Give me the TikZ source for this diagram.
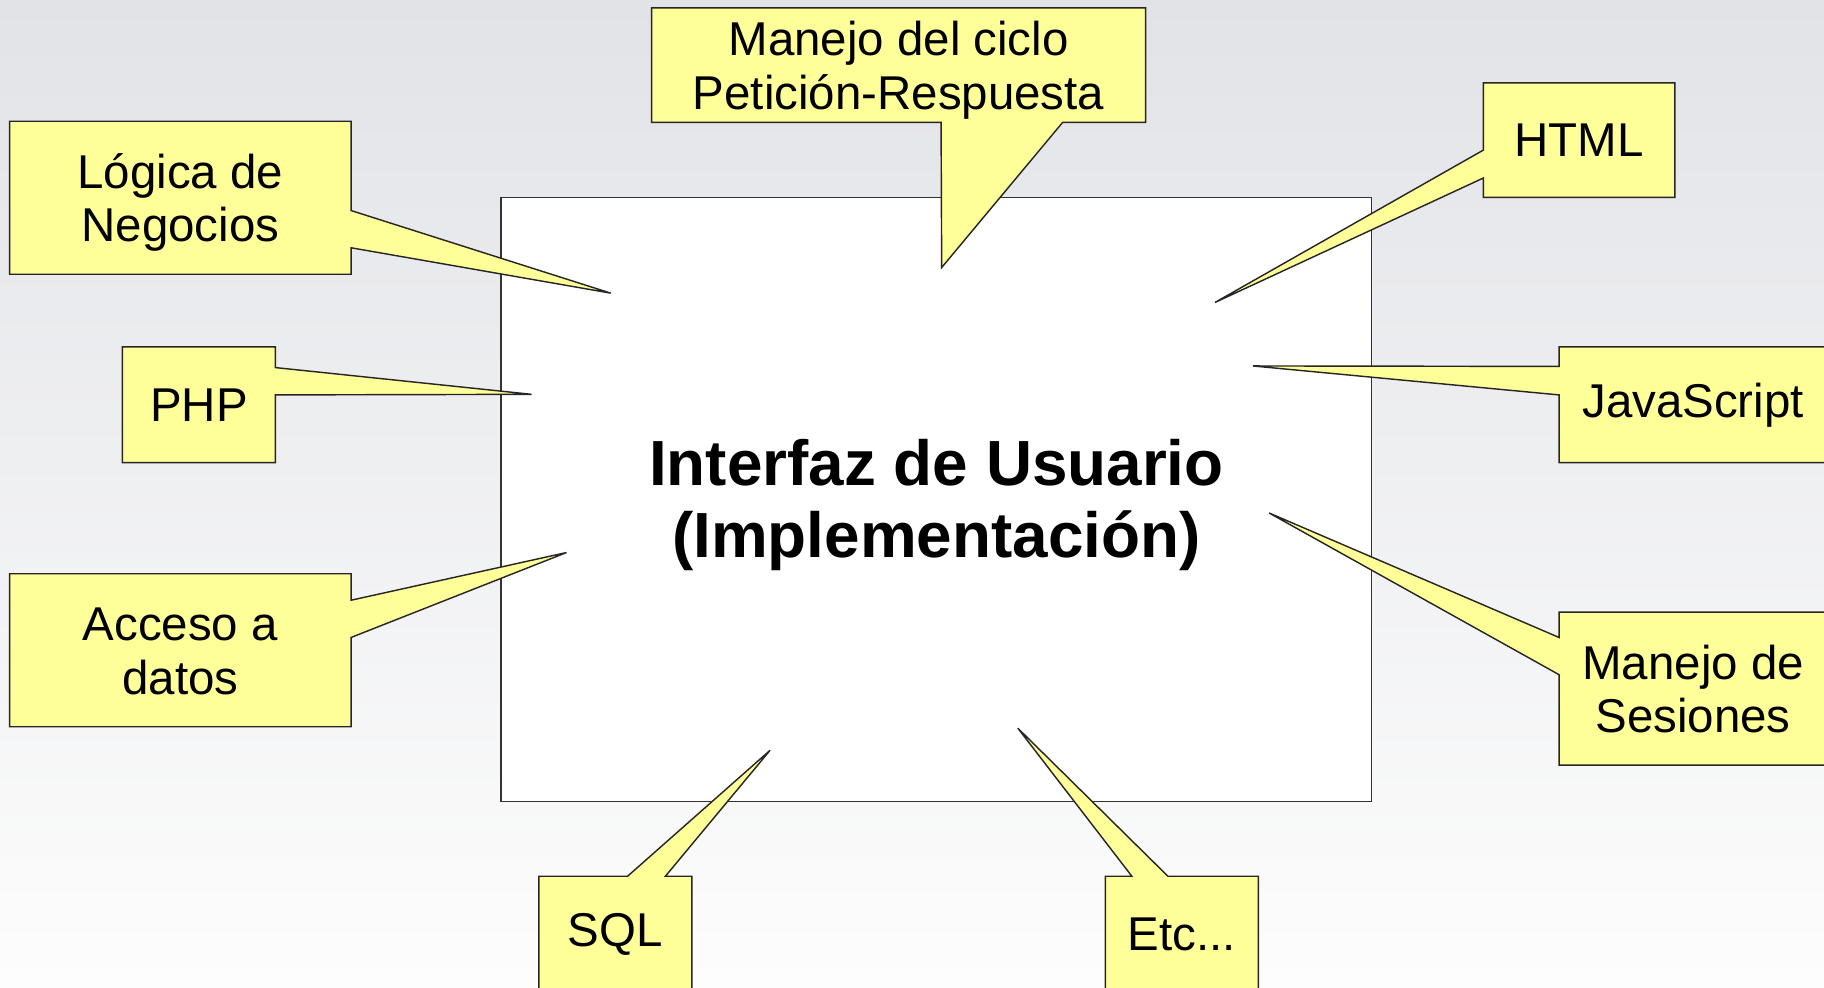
\documentclass[tikz,border=0pt]{standalone}
\usepackage{fontspec}
\setmainfont{Liberation Sans}
\usepackage{xcolor}
\usepackage{tikz}
\usetikzlibrary{positioning}

\definecolor{bgtop}{RGB}{226,227,231}
\definecolor{bgbottom}{RGB}{253,253,253}
\definecolor{noteyellow}{RGB}{255,255,153}

\pgfdeclarelayer{back}
\pgfdeclarelayer{bubbles}
\pgfsetlayers{back,bubbles,main}

\tikzset{
    notetext/.style={inner sep=0pt, align=center, font=\fontsize{11.6}{13.1}\selectfont},
    twolines/.style={text height=24pt, text depth=2.5pt},
    bubble/.style={fill=noteyellow, draw=black!85, line width=0.35pt, line join=miter},
    uibox/.style={draw=black!80, fill=white, line width=0.35pt, inner sep=0pt,
        minimum width=7.48cm, minimum height=5.19cm, align=center,
        text height=31.8pt, text depth=3.3pt,
        font=\fontsize{15.6}{17.6}\selectfont\bfseries}
}

\begin{document}
\begin{tikzpicture}[x=0.01cm, y=-0.01cm]
    \useasboundingbox (0,0) rectangle (1568,849);

    % Background and central box
    \begin{pgfonlayer}{back}
        \shade[top color=bgtop, bottom color=bgbottom] (0,0) rectangle (1568,849);
        \node[uibox] (ui) at (805,429.5) {Interfaz de Usuario\\(Implementaci\'on)};
    \end{pgfonlayer}

    % Callout texts
    \node[notetext, twolines, minimum width=2.92cm, minimum height=1.30cm] (logica) at (155,170) {L\'ogica de\\Negocios};
    \node[notetext, twolines, minimum width=4.23cm, minimum height=0.97cm] (ciclo) at (772.5,56) {Manejo del ciclo\\Petici\'on-Respuesta};
    \node[notetext, minimum width=1.63cm, minimum height=0.97cm] (html) at (1357.5,120.5) {HTML};
    \node[notetext, minimum width=1.30cm, minimum height=0.98cm] (php) at (171,348) {PHP};
    \node[notetext, minimum width=2.29cm, minimum height=0.98cm] (js) at (1455.5,348) {JavaScript};
    \node[notetext, twolines, minimum width=2.92cm, minimum height=1.30cm] (acceso) at (155,559) {Acceso a\\datos};
    \node[notetext, twolines, minimum width=2.29cm, minimum height=1.30cm] (sesiones) at (1455.5,592) {Manejo de\\Sesiones};
    \node[notetext, minimum width=1.30cm, minimum height=0.98cm] (sql) at (529,803) {SQL};
    \node[notetext, minimum width=1.30cm, minimum height=0.98cm] (etc) at (1016,803) {Etc...};

    % Tips of the callouts
    \coordinate (logicaTip) at (525,252);
    \coordinate (cicloTip) at (809.5,230);
    \coordinate (htmlTip) at (1044.5,260);
    \coordinate (phpTip) at (457,339);
    \coordinate (jsTip) at (1077,314.6);
    \coordinate (accesoTip) at (487,475);
    \coordinate (sesionesTip) at (1091,441);
    \coordinate (sqlTip) at (662,645);
    \coordinate (etcTip) at (875,626);

    % Callout outlines
    \begin{pgfonlayer}{bubbles}
        \draw[bubble] (logica.north west) -- (logica.north east) -- (logica.east |- 0,181) -- (logicaTip)
            -- (logica.east |- 0,213) -- (logica.south east) -- (logica.south west) -- cycle;
        \draw[bubble] (ciclo.north west) -- (ciclo.north east) -- (ciclo.south east) -- (913.5,0 |- ciclo.south)
            -- (cicloTip) -- (809,0 |- ciclo.south) -- (ciclo.south west) -- cycle;
        \draw[bubble] (html.north west) -- (html.north east) -- (html.south east) -- (html.south west)
            -- (html.west |- 0,153) -- (htmlTip) -- (html.west |- 0,129) -- cycle;
        \draw[bubble] (php.north west) -- (php.north east) -- (php.east |- 0,316) -- (phpTip)
            -- (php.east |- 0,339.5) -- (php.south east) -- (php.south west) -- cycle;
        \draw[bubble] (js.north west) -- (js.north east) -- (js.south east) -- (js.south west)
            -- (js.west |- 0,339.5) -- (jsTip) -- (js.west |- 0,315) -- cycle;
        \draw[bubble] (acceso.north west) -- (acceso.north east) -- (acceso.east |- 0,516) -- (accesoTip)
            -- (acceso.east |- 0,548) -- (acceso.south east) -- (acceso.south west) -- cycle;
        \draw[bubble] (sesiones.north west) -- (sesiones.north east) -- (sesiones.south east) -- (sesiones.south west)
            -- (sesiones.west |- 0,580) -- (sesionesTip) -- (sesiones.west |- 0,548) -- cycle;
        \draw[bubble] (sql.north west) -- (539.5,0 |- sql.north) -- (sqlTip) -- (572,0 |- sql.north)
            -- (sql.north east) -- (sql.south east) -- (sql.south west) -- cycle;
        \draw[bubble] (etc.north west) -- (973,0 |- etc.north) -- (etcTip) -- (1004,0 |- etc.north)
            -- (etc.north east) -- (etc.south east) -- (etc.south west) -- cycle;
    \end{pgfonlayer}
\end{tikzpicture}
\end{document}
